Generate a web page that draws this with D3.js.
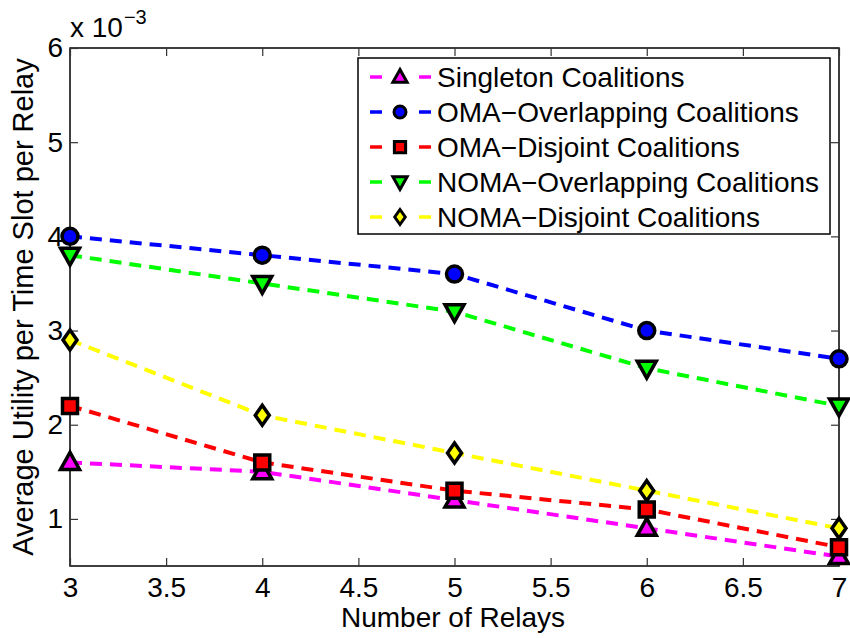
<!DOCTYPE html>
<html>
<head>
<meta charset="utf-8">
<script src="https://cdn.jsdelivr.net/npm/d3@7"></script>
<style>
  body { margin: 0; background: white; }
  text { font-family: "Liberation Sans", Arial, Helvetica, sans-serif; }
</style>
</head>
<body>
<div class="chart"></div>
<script>
// relays on the x axis, utility values in units of 1e-3
const relays = [3, 4, 5, 6, 7];
const singleton = [1.6, 1.5, 1.2, 0.9, 0.6];
const omaOverlap = [4.0, 3.8, 3.6, 3.0, 2.7];
const omaDisjoint = [2.2, 1.6, 1.3, 1.1, 0.7];
const nomaOverlap = [3.8, 3.5, 3.2, 2.6, 2.2];
const nomaDisjoint = [2.9, 2.1, 1.7, 1.3, 0.9];
const xTicks = [3, 3.5, 4, 4.5, 5, 5.5, 6, 6.5, 7];
const yTicks = [1, 2, 3, 4, 5, 6];

const series = [
  {name: "Singleton Coalitions", vals: singleton, color: "#ff00ff", shape: "tri"},
  {name: "OMA\u2212Overlapping Coalitions", vals: omaOverlap, color: "#0000ff", shape: "circle"},
  {name: "OMA\u2212Disjoint Coalitions", vals: omaDisjoint, color: "#ff0000", shape: "square"},
  {name: "NOMA\u2212Overlapping Coalitions", vals: nomaOverlap, color: "#00ff00", shape: "triDown"},
  {name: "NOMA\u2212Disjoint Coalitions", vals: nomaDisjoint, color: "#ffff00", shape: "diamond"}
];

const w = 850, h = 638;
const mLeft = 70, mRight = 839, mTop = 48, mBottom = 566;
const fs = 28;

const svg = d3.select(".chart").append("svg")
  .attr("width", w).attr("height", h);

const x = d3.scaleLinear().domain([3, 7]).range([mLeft, mRight]);
const y = d3.scaleLinear().domain([0.5, 6]).range([mBottom, mTop]);

// box
svg.append("rect")
  .attr("x", mLeft).attr("y", mTop)
  .attr("width", mRight - mLeft).attr("height", mBottom - mTop)
  .attr("fill", "none").attr("stroke", "black").attr("stroke-width", 1.5);

const tickLen = 8;
const axB = svg.append("g").attr("transform", `translate(0,${mBottom})`)
  .call(d3.axisBottom(x).tickValues(xTicks).tickSizeInner(-tickLen).tickSizeOuter(0).tickFormat(d3.format("")));
const axT = svg.append("g").attr("transform", `translate(0,${mTop})`)
  .call(d3.axisTop(x).tickValues(xTicks).tickSizeInner(-tickLen).tickSizeOuter(0).tickFormat(""));
const axL = svg.append("g").attr("transform", `translate(${mLeft},0)`)
  .call(d3.axisLeft(y).tickValues(yTicks).tickSizeInner(-tickLen).tickSizeOuter(0).tickPadding(7).tickFormat(d3.format("d")));
const axR = svg.append("g").attr("transform", `translate(${mRight},0)`)
  .call(d3.axisRight(y).tickValues(yTicks).tickSizeInner(-tickLen).tickSizeOuter(0).tickFormat(""));

[axB, axT, axL, axR].forEach(a => {
  a.select(".domain").remove();
  a.selectAll(".tick line").attr("stroke", "#333").attr("stroke-width", 1.2);
  a.selectAll("text").attr("font-size", fs).attr("fill", "black")
    .style("font-family", '"Liberation Sans", Arial, sans-serif');
});
axB.selectAll("text").attr("y", 31).attr("dy", 0);

// exponent label
const ex = svg.append("text").attr("x", mLeft).attr("y", 37)
  .attr("font-size", fs);
ex.append("tspan").text("x 10");
ex.append("tspan").attr("dy", -13).attr("dx", 1).attr("font-size", 20).text("\u22123");

// axis titles
svg.append("text").attr("x", 453).attr("y", 627)
  .attr("text-anchor", "middle").attr("font-size", fs).text("Number of Relays");
svg.append("text")
  .attr("transform", `translate(33,307) rotate(-90)`)
  .attr("text-anchor", "middle").attr("font-size", 29)
  .text("Average Utility per Time Slot per Relay");

function markerPath(shape, s) {
  if (shape === "tri") return `M0,${-s}L${s * 0.95},${s * 0.7}L${-s * 0.95},${s * 0.7}Z`;
  if (shape === "triDown") return `M0,${s}L${s * 0.95},${-s * 0.7}L${-s * 0.95},${-s * 0.7}Z`;
  if (shape === "diamond") return `M0,${-s}L${s * 0.7},0L0,${s}L${-s * 0.7},0Z`;
  if (shape === "square") { const q = s * 0.75; return `M${-q},${-q}H${q}V${q}H${-q}Z`; }
  return d3.symbol(d3.symbolCircle, Math.PI * (s * 0.8) * (s * 0.8))();
}

const line = d3.line().x(d => x(d[0])).y(d => y(d[1]));

series.forEach(sr => {
  const pts = relays.map((r, i) => [r, sr.vals[i]]);
  svg.append("path").datum(pts)
    .attr("d", line)
    .attr("fill", "none").attr("stroke", sr.color)
    .attr("stroke-width", 4).attr("stroke-dasharray", "12,8");
});

series.forEach(sr => {
  const pts = relays.map((r, i) => [r, sr.vals[i]]);
  svg.selectAll(null).data(pts).enter().append("path")
    .attr("transform", d => `translate(${x(d[0])},${y(d[1])})`)
    .attr("d", markerPath(sr.shape, 10))
    .attr("fill", sr.color).attr("stroke", "black").attr("stroke-width", 3.5);
});

// legend
const lg = svg.append("g");
lg.append("rect").attr("x", 358).attr("y", 58).attr("width", 472).attr("height", 176)
  .attr("fill", "white").attr("stroke", "black").attr("stroke-width", 1.5);
series.forEach((sr, i) => {
  const yy = 77 + i * 35;
  [[370, 382], [419, 431]].forEach(seg => {
    lg.append("line").attr("x1", seg[0]).attr("x2", seg[1]).attr("y1", yy).attr("y2", yy)
      .attr("stroke", sr.color).attr("stroke-width", 3.5);
  });
  lg.append("path").attr("transform", `translate(400,${yy})`)
    .attr("d", markerPath(sr.shape, 7.5))
    .attr("fill", sr.color).attr("stroke", "black").attr("stroke-width", 3);
  lg.append("text").attr("x", 437).attr("y", yy).attr("dy", "0.36em")
    .attr("font-size", fs).text(sr.name);
});
</script>
</body>
</html>
